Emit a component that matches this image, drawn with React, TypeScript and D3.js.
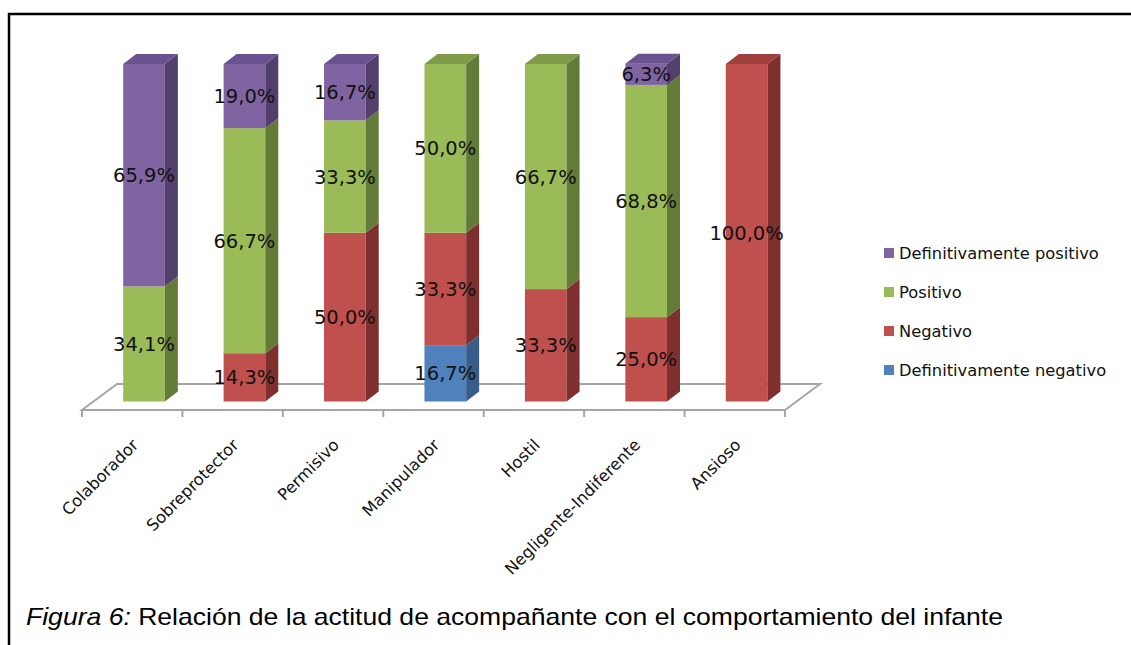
import React from "react";
import * as d3 from "d3";

const categories = ["Colaborador", "Sobreprotector", "Permisivo", "Manipulador", "Hostil", "Negligente-Indiferente", "Ansioso"];
const defNegativo = [0, 0, 0, 16.7, 0, 0, 0];
const negativo = [0, 14.3, 50.0, 33.3, 33.3, 25.0, 100.0];
const positivo = [34.1, 66.7, 33.3, 50.0, 66.7, 68.8, 0];
const defPositivo = [65.9, 19.0, 16.7, 0, 0, 6.3, 0];
const seriesNames = ["Definitivamente negativo", "Negativo", "Positivo", "Definitivamente positivo"];
const seriesValues = [defNegativo, negativo, positivo, defPositivo];
const legendOrder = ["Definitivamente positivo", "Positivo", "Negativo", "Definitivamente negativo"];
const caption = "Relación de la actitud de acompañante con el comportamiento del infante";

const palette: Record<string, { front: string; side: string; top: string }> = {
  "Definitivamente negativo": { front: "#4F81BD", side: "#385D8A", top: "#4573A8" },
  "Negativo": { front: "#C0504D", side: "#7F302E", top: "#A0403D" },
  "Positivo": { front: "#9BBB59", side: "#647A37", top: "#7F9A48" },
  "Definitivamente positivo": { front: "#8064A2", side: "#533F6C", top: "#6A5290" },
};

const fmt = (v: number) => v.toFixed(1).replace(".", ",") + "%";

export default function App() {
  const W = 1131, H = 645;
  const floorFrontY = 410, floorBackY = 384;
  const floorDX = 35;
  const x = d3.scaleBand<string>().domain(categories).range([82, 785]).padding(0);
  const y = d3.scaleLinear().domain([0, 100]).range([401.5, 64]);
  const bw = x.bandwidth();
  const barW = bw * 0.415;
  const depthX = 13, depthY = 10;
  const barOffset = bw * 0.41;

  const floorPath = [
    [82, floorFrontY], [785, floorFrontY], [785 + floorDX, floorBackY], [82 + floorDX, floorBackY],
  ];

  const bars: React.ReactNode[] = [];
  const labels: React.ReactNode[] = [];
  categories.forEach((c, i) => {
    const x0 = (x(c) as number) + barOffset;
    let cum = 0;
    const segs: { name: string; v0: number; v1: number }[] = [];
    seriesValues.forEach((vals, s) => {
      const v = vals[i];
      if (v > 0) {
        segs.push({ name: seriesNames[s], v0: cum, v1: cum + v });
        cum += v;
      }
    });
    segs.forEach((sg, k) => {
      const col = palette[sg.name];
      const yTop = y(sg.v1), yBot = y(sg.v0);
      const isTop = k === segs.length - 1;
      bars.push(
        <g key={`${c}-${sg.name}`}>
          <rect x={x0} y={yTop} width={barW} height={yBot - yTop} fill={col.front} />
          <path
            d={`M${x0 + barW},${yTop} L${x0 + barW + depthX},${yTop - depthY} L${x0 + barW + depthX},${yBot - depthY} L${x0 + barW},${yBot} Z`}
            fill={col.side}
          />
          {isTop && (
            <path
              d={`M${x0},${yTop} L${x0 + depthX},${yTop - depthY} L${x0 + barW + depthX},${yTop - depthY} L${x0 + barW},${yTop} Z`}
              fill={col.top}
            />
          )}
        </g>
      );
      const val = sg.v1 - sg.v0;
      labels.push(
        <text
          key={`l-${c}-${sg.name}`}
          x={x0 + barW / 2}
          y={(yTop + yBot) / 2}
          dy="0.36em"
          textAnchor="middle"
          fontFamily="DejaVu Sans"
          fontSize={19.5}
          fill="#111"
        >
          {fmt(val)}
        </text>
      );
    });
  });

  const tickXs = [...categories.map((c) => x(c) as number), 785];

  return (
    <svg width={W} height={H} style={{ position: "absolute", left: 0, top: 0, background: "#fff" }}>
      <rect x={0} y={0} width={W} height={H} fill="#fff" />
      <path d={`M9,${H} L9,14 L${W},14`} fill="none" stroke="#000" strokeWidth={2.5} />
      <polygon points={floorPath.map((p) => p.join(",")).join(" ")} fill="#fff" stroke="#a6a6a6" strokeWidth={2} />
      {tickXs.map((tx, i) => (
        <line key={i} x1={tx} x2={tx} y1={floorFrontY} y2={floorFrontY + 7} stroke="#a6a6a6" strokeWidth={2} />
      ))}
      {bars}
      {labels}
      {categories.map((c) => {
        const cx = (x(c) as number) + bw / 2 + 7;
        const cy = 446;
        return (
          <text
            key={`ax-${c}`}
            x={cx}
            y={cy}
            transform={`rotate(-45,${cx},${cy})`}
            textAnchor="end"
            fontFamily="DejaVu Sans"
            fontSize={16.3}
            fill="#111"
          >
            {c}
          </text>
        );
      })}
      {legendOrder.map((n, i) => {
        const ly = 253 + i * 39;
        return (
          <g key={n}>
            <rect x={884} y={ly - 5} width={10} height={10} fill={palette[n].front} />
            <text x={899} y={ly} dy="0.36em" fontFamily="DejaVu Sans" fontSize={16.3} fill="#111">
              {n}
            </text>
          </g>
        );
      })}
      <text x={26} y={625} fontFamily="Liberation Sans" fontSize={24} fill="#000" textLength={977} lengthAdjust="spacingAndGlyphs">
        <tspan fontStyle="italic">Figura 6:</tspan> {caption}
      </text>
    </svg>
  );
}
